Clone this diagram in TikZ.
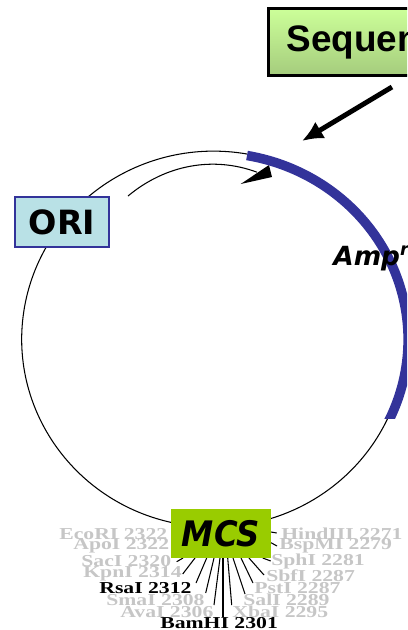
\documentclass[tikz,border=0pt]{standalone}
\usepackage{fontspec}
\usepackage{xcolor}
\usetikzlibrary{arrows.meta}
\newfontfamily\seqfont{Liberation Sans}
\newfontfamily\tagfont{DejaVu Sans}
\newfontfamily\mcsfont[FakeStretch=0.92]{DejaVu Sans}
\newfontfamily\enzfont[FakeStretch=1.3]{Liberation Serif}
\definecolor{bandblue}{HTML}{33339A}
\definecolor{oricyan}{HTML}{B9E1E6}
\definecolor{mcsgreen}{HTML}{99CC00}
\definecolor{enzgray}{HTML}{C6C6C6}
\definecolor{seqtop}{HTML}{CCFF99}
\definecolor{seqbot}{HTML}{A5CC7D}
\tikzset{>=latex}
\tikzset{
	thinline/.style={line width=0.6pt, black},
	fanline/.style={line width=0.6pt, black},
	enz/.style={anchor=west, inner sep=0pt, text=enzgray, font=\enzfont\bfseries\fontsize{9.5}{10}\selectfont},
	enzon/.style={enz, text=black},
	seqbox/.style={draw=black, line width=1.7pt, top color=seqtop, bottom color=seqbot, anchor=west, minimum height=1.34cm, text width=2.3cm, inner xsep=0.36cm, align=left},
}
\begin{document}
\begin{tikzpicture}[x=0.02cm, y=-0.02cm]
	\clip (0,0) rectangle (407,630);

	\coordinate[](arcstart) at (247,154);
	\coordinate[](bandstart) at (247,155.5);
	\coordinate[](innerstart) at (128,196);
	\coordinate[](arrowstart) at (392,87);
	\coordinate[](arrowend) at (302,141);

	%% Enzyme labels
	\node[enz](ecori) at (59,534) {EcoRI 2322};
	\node[enz](apoi) at (73,546) {ApoI 2322};
	\node[enz](saci) at (81,561) {SacI 2320};
	\node[enz](kpni) at (83,574) {KpnI 2314};
	\node[enzon](rsai) at (99,588) {RsaI 2312};
	\node[enz](smai) at (106,600) {SmaI 2308};
	\node[enz](avai) at (120,612) {AvaI 2306};
	\node[enzon](bamhi) at (160,623) {BamHI 2301};
	\node[enz](xbai) at (232,612) {XbaI 2295};
	\node[enz](sali) at (243,600) {SalI 2289};
	\node[enz](psti) at (254,588) {PstI 2287};
	\node[enz](sbfi) at (266,576) {SbfI 2287};
	\node[enz](sphi) at (271,561) {SphI 2281};
	\node[enz](bspmi) at (279,546) {BspMI 2279};
	\node[enz](hindiii) at (281,534) {HindIII 2271};

	%% Fan
	\draw[fanline] (183,558) -- (176.7,561.7);
	\draw[fanline] (195,558) -- (182.7,574);
	\draw[fanline] (206.7,558) -- (196,583);
	\draw[fanline] (214,558) -- (205.7,593);
	\draw[fanline] (220,558) -- (214,605);
	\draw[fanline] (223,558) -- (223,617);
	\draw[fanline] (227.7,558) -- (231.7,605);
	\draw[fanline] (233,558) -- (245,594);
	\draw[fanline] (241,558) -- (253,583);
	\draw[fanline] (249,558) -- (264,575);
	\draw[fanline] (262.7,558) -- (270.7,561);
	\draw[fanline] (271,542.7) -- (277,546);
	\draw[fanline] (271,532) -- (276.7,533);

	%% Plasmid
	\draw[thinline] (arcstart) arc[start angle=80, end angle=335.5, x radius=3.84cm, y radius=3.76cm];
	\draw[thinline] (innerstart) arc[start angle=125, end angle=72.7, x radius=2.96cm, y radius=3.52cm];
	\fill[black] (240.7,184) -- (269,165) -- (272,177) -- cycle;

	% Band
	\begin{scope}
		\clip (200,140) rectangle (420,418);
		\draw[line width=5.4pt, bandblue] (bandstart) arc[start angle=80, end angle=-28, x radius=3.9cm, y radius=3.74cm];
	\end{scope}

	% Boxes
	\node[draw=bandblue, line width=0.8pt, fill=oricyan, minimum width=1.88cm, minimum height=1cm, inner sep=0pt, font=\tagfont\bfseries\fontsize{19}{19}\selectfont](ori) at (62,222) {ORI};
	\node[fill=mcsgreen, minimum width=2cm, minimum height=0.98cm, inner sep=0pt, font=\mcsfont\bfseries\itshape\fontsize{20}{20}\selectfont](mcs) at (221,533.5) {MCS};
	\node[seqbox, font=\seqfont\bfseries\fontsize{21}{21}\selectfont](seq) at (267,42) {Sequen};
	\node[anchor=base west, inner sep=0pt, font=\tagfont\bfseries\itshape\fontsize{15}{15}\selectfont](amp) at (333,265) {Amp\raisebox{0.35em}{\fontsize{10}{10}\selectfont r}};

	% Arrow
	\draw[-{Latex[length=12pt,width=11pt]}, line width=2.8pt, black] (arrowstart) -- (arrowend);
\end{tikzpicture}
\end{document}
